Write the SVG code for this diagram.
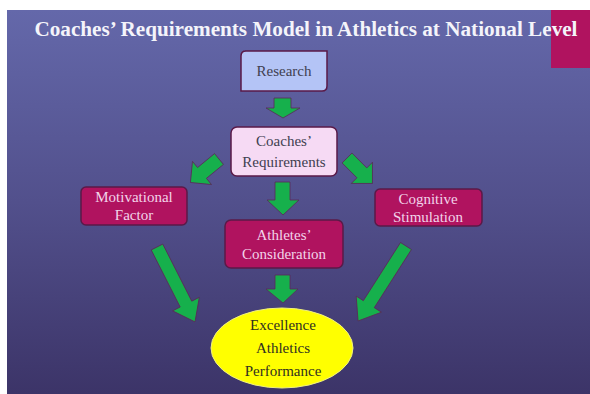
<svg xmlns="http://www.w3.org/2000/svg" width="590" height="394" viewBox="0 0 590 394">
<defs>
<linearGradient id="bg" x1="0" y1="0" x2="0" y2="1">
<stop offset="0" stop-color="#6468aa"/>
<stop offset="0.5" stop-color="#52508c"/>
<stop offset="1" stop-color="#3c3468"/>
</linearGradient>
<style>
.arrow{fill:#16b04c;stroke:#5a2a58;stroke-width:0.8}
.box{stroke:#5a1a48;stroke-width:1.5}
.mag{fill:#b0135f}
.lbl{font-family:"Liberation Serif","Times New Roman",serif;font-size:15px;text-anchor:middle}
.light{fill:#f2d4ea}
.dark{fill:#404050}
</style>
</defs>
<rect x="0" y="0" width="590" height="394" fill="#ffffff"/>
<rect x="7" y="10" width="583" height="384" fill="url(#bg)"/>
<rect x="551" y="10" width="39" height="58" fill="#b0135f"/>
<text x="306" y="36" font-family="Liberation Serif, Times New Roman, serif" font-size="20" font-weight="bold" fill="#f4f4fa" text-anchor="middle" textLength="543" lengthAdjust="spacingAndGlyphs">Coaches’ Requirements Model in Athletics at National Level</text>

<g id="connectors">
<polygon class="arrow" points="274,98 291,98 291,108 300,108 283,118 266,108 274,108"/>
<polygon class="arrow" points="275,182 290,182 290,200 299,200 283,215 267,200 275,200"/>
<polygon class="arrow" points="275,275 290,275 290,289 298,289 283,303 266,289 275,289"/>
<path class="arrow" transform="translate(219,159) rotate(140.6)" d="M0,-7 L22,-7 L22,-15 L37,0 L22,15 L22,7 L0,7 Z"/>
<path class="arrow" transform="translate(347,158) rotate(45)" d="M0,-7 L21,-7 L21,-15 L36,0 L21,15 L21,7 L0,7 Z"/>
<path class="arrow" transform="translate(157,247) rotate(63.1)" d="M0,-6.5 L64,-6.5 L64,-15 L84,0 L64,15 L64,6.5 L0,6.5 Z"/>
<path class="arrow" transform="translate(406,246) rotate(122.6)" d="M0,-6.5 L69,-6.5 L69,-15 L89,0 L69,15 L69,6.5 L0,6.5 Z"/>
</g>

<g id="research">
<path class="box" fill="#b4c4f6" d="M245,51 H327 V86 Q327,91 322,91 H241 V56 Q241,51 246,51 Z"/>
<text class="lbl dark" x="284" y="76">Research</text>
</g>
<g id="coaches-requirements">
<rect class="box" x="231" y="127" width="106" height="49" rx="6" fill="#f6daf4"/>
<text class="lbl dark" x="284" y="146">Coaches’</text>
<text class="lbl dark" x="284" y="167">Requirements</text>
</g>
<g id="motivational-factor">
<rect class="box mag" x="81" y="187" width="106" height="38" rx="5"/>
<text class="lbl light" x="134" y="202">Motivational</text>
<text class="lbl light" x="134" y="220">Factor</text>
</g>
<g id="cognitive-stimulation">
<rect class="box mag" x="375" y="189" width="107" height="37" rx="5"/>
<text class="lbl light" x="428" y="204">Cognitive</text>
<text class="lbl light" x="428" y="222">Stimulation</text>
</g>
<g id="athletes-consideration">
<rect class="box mag" x="225" y="220" width="118" height="48" rx="6"/>
<text class="lbl light" x="284" y="240">Athletes’</text>
<text class="lbl light" x="284" y="259">Consideration</text>
</g>
<g id="excellence">
<ellipse cx="282" cy="348" rx="71" ry="40" fill="#ffff00" stroke="#f0f080" stroke-width="1"/>
<text class="lbl" fill="#303020" font-size="16.5" x="283" y="330">Excellence</text>
<text class="lbl" fill="#303020" font-size="16.5" x="283" y="353">Athletics</text>
<text class="lbl" fill="#303020" font-size="16.5" x="283" y="376">Performance</text>
</g>
</svg>
